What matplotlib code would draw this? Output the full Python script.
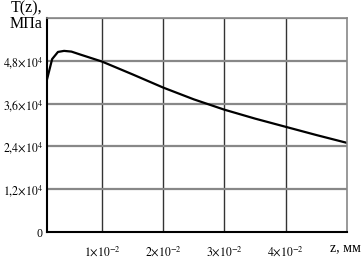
import numpy as np
import matplotlib.pyplot as plt

plt.rcParams['font.family'] = ['Liberation Serif', 'DejaVu Serif']
plt.rcParams['mathtext.fontset'] = 'stix'

# напряжение T(z) по глубине z
z = [0.001, 0.00185, 0.0028, 0.0038, 0.005, 0.0064, 0.01, 0.015, 0.02,
     0.025, 0.03, 0.035, 0.04, 0.045, 0.05]
T = [4.27e4, 4.85e4, 5.05e4, 5.08e4, 5.06e4, 4.98e4, 4.78e4, 4.42e4, 4.05e4,
     3.72e4, 3.43e4, 3.18e4, 2.95e4, 2.72e4, 2.5e4]

x_ticks = [0.01, 0.02, 0.03, 0.04]
x_labels = [r'$1{\times}10^{-2}$', r'$2{\times}10^{-2}$',
            r'$3{\times}10^{-2}$', r'$4{\times}10^{-2}$']
y_ticks = [0, 1.2e4, 2.4e4, 3.6e4, 4.8e4]
y_labels = ['0', r'$1{,}2{\times}10^{4}$', r'$2{,}4{\times}10^{4}$',
            r'$3{,}6{\times}10^{4}$', r'$4{,}8{\times}10^{4}$']

fig = plt.figure(figsize=(3.61, 2.62), dpi=100)
ax = fig.add_axes([0.130, 0.1145, 0.831, 0.8165])

ax.plot(z, T, color='black', lw=1.6)

ax.set_xlim(0.001, 0.05)
ax.set_ylim(0, 6e4)

# сетка
for xv in x_ticks:
    ax.axvline(xv, color='#333333', lw=1.0, zorder=0)
for yv in y_ticks[1:] + [6e4]:
    ax.axhline(yv, color='#888888', lw=1.6, zorder=0)

ax.set_xticks(x_ticks, x_labels, fontsize=8.5)
ax.set_yticks(y_ticks, y_labels, fontsize=8.5)
ax.tick_params(length=0, pad=3)
ax.tick_params(axis='x', pad=9)

for s in ['left', 'bottom']:
    ax.spines[s].set_color('black')
    ax.spines[s].set_linewidth(1.5)
for s in ['top', 'right']:
    ax.spines[s].set_color('#888888')
    ax.spines[s].set_linewidth(1.2)

fig.text(0.118, 0.998, 'T(z),\nМПа', ha='right', va='top', fontsize=11.5,
         linespacing=0.95)
fig.text(0.999, 0.055, 'z, мм', ha='right', va='center', fontsize=10)

fig.savefig('out.png', dpi=100)
